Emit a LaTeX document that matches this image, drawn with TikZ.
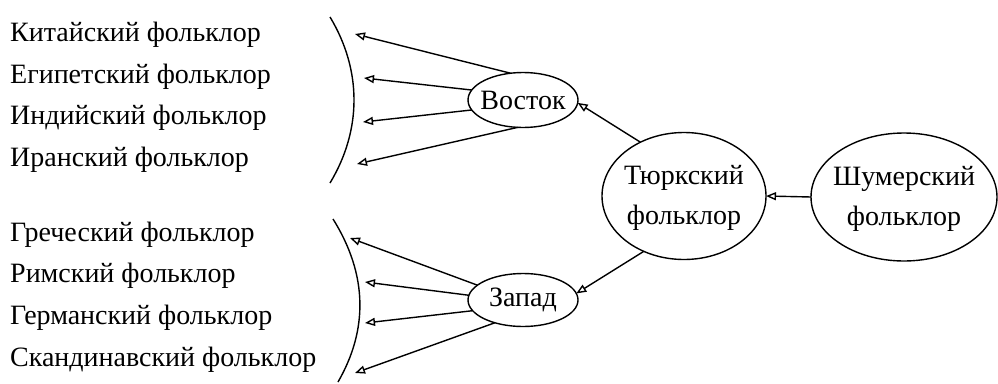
\documentclass[tikz,border=0pt]{standalone}
\usepackage{fontspec}
\setmainfont{Liberation Serif}
\usetikzlibrary{shapes.geometric,arrows.meta}
\begin{document}
\begin{tikzpicture}[x=1pt,y=-1pt,
  lbl/.style={anchor=base west,inner sep=0pt,font=\fontsize{28}{40}\selectfont},
  ell/.style={draw,ellipse,line width=1.4pt,inner sep=0pt,outer sep=0pt,font=\fontsize{28}{40}\selectfont},
  arr/.style={line width=1.4pt,-{Triangle[open,length=10pt,width=8pt]}},
  brk/.style={line width=1.4pt}]
\useasboundingbox (0,0) rectangle (998,383);
% left labels
\node[lbl] (t1) at (10,41) {Китайский фольклор};
\node[lbl] (t2) at (10,83) {Египетский фольклор};
\node[lbl] (t3) at (10,124) {Индийский фольклор};
\node[lbl] (t4) at (10,166) {Иранский фольклор};
\node[lbl] (t5) at (10,241) {Греческий фольклор};
\node[lbl] (t6) at (10,282) {Римский фольклор};
\node[lbl] (t7) at (10,324) {Германский фольклор};
\node[lbl] (t8) at (10,366) {Скандинавский фольклор};
% ellipses
\node[ell,minimum width=110pt,minimum height=55pt] (vostok) at (523,100) {\makebox[0pt]{Восток}};
\node[ell,minimum width=110pt,minimum height=53pt] (zapad) at (523,300) {\makebox[0pt]{Запад}};
\node[ell,minimum width=164pt,minimum height=127pt] (turk) at (684,196) {\makebox[0pt]{\begin{tabular}{@{}c@{}}Тюркский\\фольклор\end{tabular}}};
\node[ell,minimum width=186pt,minimum height=128pt] (shum) at (904,197) {\makebox[0pt]{\begin{tabular}{@{}c@{}}Шумерский\\фольклор\end{tabular}}};
% brackets
\coordinate (b1) at (330,17);
\coordinate (b2) at (330,183);
\coordinate (b3) at (333,219);
\coordinate (b4) at (338,382);
\draw[brk] (b1) .. controls (362,70) and (362,130) .. (b2);
\draw[brk] (b3) .. controls (368,275) and (368,330) .. (b4);
% fan arrow ends
\coordinate (v1) at (355,34);
\coordinate (v2) at (364,78);
\coordinate (v3) at (363,122);
\coordinate (v4) at (357,164);
\coordinate (z1) at (350,238);
\coordinate (z2) at (365,282);
\coordinate (z3) at (365,323);
\coordinate (z4) at (355,373);
\draw[arr] (vostok.115) -- (v1);
\draw[arr] (vostok.169) -- (v2);
\draw[arr] (vostok.191) -- (v3);
\draw[arr] (vostok.259) -- (v4);
\draw[arr] (zapad.162) -- (z1);
\draw[arr] (zapad.175) -- (z2);
\draw[arr] (zapad.192) -- (z3);
\draw[arr] (zapad.219) -- (z4);
\draw[arr] (turk.129) -- (vostok.-3);
\draw[arr] (turk.234) -- (zapad.7);
\draw[arr] (shum.west) -- (turk.east);
\end{tikzpicture}
\end{document}
